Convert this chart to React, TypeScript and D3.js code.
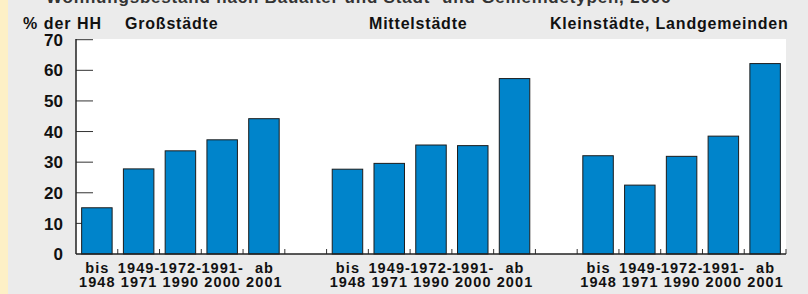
import * as d3 from "d3";

const groupNames = ["Großstädte", "Mittelstädte", "Kleinstädte, Landgemeinden"];
const periodTop = ["bis", "1949-", "1972-", "1991-", "ab"];
const periodBottom = ["1948", "1971", "1990", "2000", "2001"];

const grossstaedte = [15.1, 27.8, 33.7, 37.3, 44.2];
const mittelstaedte = [27.7, 29.6, 35.6, 35.4, 57.3];
const kleinstaedte = [32.1, 22.5, 31.9, 38.5, 62.2];

const yTicks = [0, 10, 20, 30, 40, 50, 60, 70];

const title = "Wohnungsbestand nach Baualter und Stadt- und Gemeindetypen, 2006";
const yLabel = "% der HH";

const width = 808;
const height = 294;
const font = "'Liberation Sans', Arial, Helvetica, sans-serif";

export default function App() {
  const series = [grossstaedte, mittelstaedte, kleinstaedte];
  const perGroup = periodTop.length + 1; // five bars plus one empty slot
  const slotCount = series.length * perGroup - 1;

  const x = d3
    .scaleBand<number>()
    .domain(d3.range(slotCount))
    .range([76, 786])
    .paddingInner(0)
    .paddingOuter(0);

  const y = d3.scaleLinear().domain([0, 70]).range([254, 39.7]);

  const bw = x.bandwidth();
  const barWidth = bw * 0.73;

  const bars = series.flatMap((vals, g) =>
    vals.map((v, i) => ({ g, i, v, slot: g * perGroup + i }))
  );

  // small ticks on the baseline at the borders of each bar slot
  const ticks: number[] = [];
  series.forEach((vals, g) => {
    const first = g * perGroup;
    if (g > 0) ticks.push(x(first)!);
    vals.forEach((_, i) => ticks.push(x(first + i)! + bw));
  });

  const groupX = [125, 369, 550];

  return (
    <div style={{ position: "fixed", left: 0, top: 0 }}>
      <svg width={width} height={height} style={{ display: "block" }}>
        <rect x={0} y={0} width={width} height={height} fill="#ebebeb" />
        <rect x={0} y={0} width={8} height={height} fill="#fdf0c6" />
        <text x={46} y={3} fontFamily={font} fontWeight="bold" fontSize={17} fill="#333" letterSpacing={0.8}>
          {title}
        </text>

        <text x={23} y={29} fontFamily={font} fontWeight="bold" fontSize={16} fill="#111" letterSpacing={1}>
          {yLabel}
        </text>
        {groupNames.map((name, g) => (
          <text
            key={name}
            x={groupX[g]}
            y={29}
            fontFamily={font}
            fontWeight="bold"
            fontSize={16}
            fill="#111"
            letterSpacing={0.8}
          >
            {name}
          </text>
        ))}

        <rect x={76} y={39} width={786 - 76} height={254 - 39} fill="#ffffff" />

        {yTicks.map((t) => (
          <g key={t}>
            {t > 0 && (
              <line x1={76} x2={93} y1={y(t)} y2={y(t)} stroke="#333" strokeWidth={1} />
            )}
            <text
              x={63}
              y={y(t)}
              dy="0.36em"
              textAnchor="end"
              fontFamily={font}
              fontWeight="bold"
              fontSize={17}
              fill="#111"
            >
              {t}
            </text>
          </g>
        ))}

        {bars.map((b) => (
          <rect
            key={`${b.g}-${b.i}`}
            x={x(b.slot)! + (bw - barWidth) / 2}
            y={y(b.v)}
            width={barWidth}
            height={y(0) - y(b.v)}
            fill="#0084cb"
            stroke="#1c1c1c"
            strokeWidth={1}
          />
        ))}

        {ticks.map((tx, k) => (
          <line key={k} x1={tx} x2={tx} y1={249} y2={254} stroke="#333" strokeWidth={1} />
        ))}

        <line x1={76} x2={76} y1={39} y2={254} stroke="#222" strokeWidth={1.5} />
        <line x1={76} x2={786} y1={254} y2={254} stroke="#222" strokeWidth={1.5} />

        {bars.map((b) => (
          <g
            key={`l-${b.g}-${b.i}`}
            fontFamily={font}
            fontWeight="bold"
            fontSize={14.5}
            fill="#111"
            textAnchor="middle"
            letterSpacing={1.1}
          >
            <text x={x(b.slot)! + bw / 2 + 0.5} y={273}>
              {periodTop[b.i]}
            </text>
            <text x={x(b.slot)! + bw / 2 + 0.5} y={287}>
              {periodBottom[b.i]}
            </text>
          </g>
        ))}
      </svg>
    </div>
  );
}
